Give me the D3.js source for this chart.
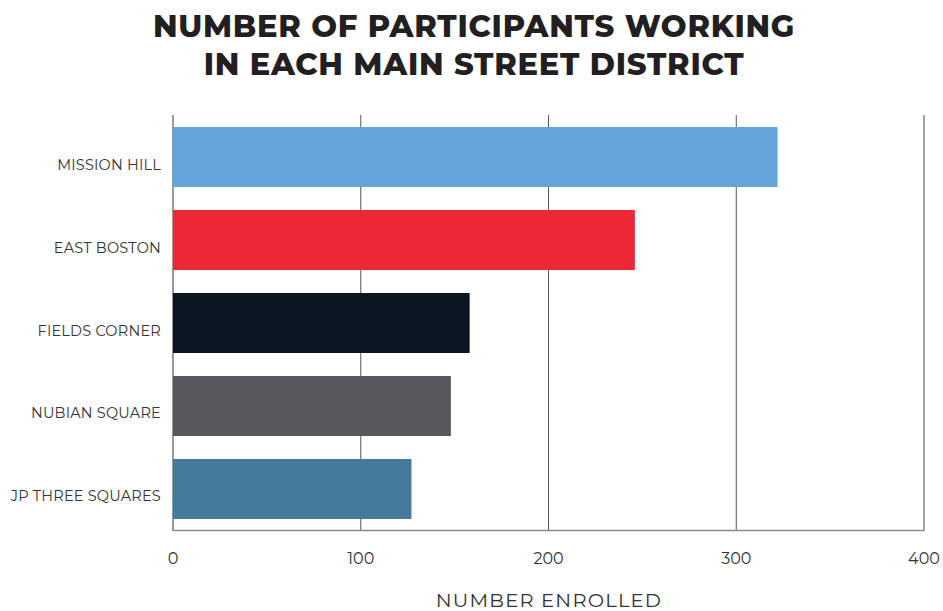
<!DOCTYPE html>
<html><head><meta charset="utf-8">
<script src="https://cdn.jsdelivr.net/npm/d3@7"></script>
<style>body{margin:0;background:#fff}svg{display:block}</style>
</head><body>
<svg id="c" width="943" height="611"></svg>
<script>
const categories = ["MISSION HILL","EAST BOSTON","FIELDS CORNER","NUBIAN SQUARE","JP THREE SQUARES"];
const values = [322, 246, 158, 148, 127];
const colors = ["#65A4D8","#EE2737","#0A1721","#58585C","#447A9C"];
const xTicks = [0,100,200,300,400];
const titleLines = ["NUMBER OF PARTICIPANTS WORKING","IN EACH MAIN STREET DISTRICT"];
const xTitle = "NUMBER ENROLLED";

const svg = d3.select("#c");
const F = "Montserrat, 'Open Sans', Lato, sans-serif";
const x = d3.scaleLinear().domain([0,400]).range([173,924]);
const y = d3.scaleBand().domain(categories).range([115,531]).paddingInner(0.277).paddingOuter(0.145);

// gridlines
svg.append("g").selectAll("line").data(xTicks).join("line")
  .attr("x1",d=>x(d)).attr("x2",d=>x(d)).attr("y1",115).attr("y2",531)
  .attr("stroke",d=>d===400?"#8a8a8a":(d===0?"#808080":"#555"))
  .attr("stroke-width",d=>d===400||d===0?1.6:1);
// bottom axis line
svg.append("line").attr("x1",x(0)).attr("x2",x(400)).attr("y1",530.5).attr("y2",530.5)
  .attr("stroke","#8a8a8a").attr("stroke-width",1.4);

// bars
svg.append("g").selectAll("rect").data(categories).join("rect")
  .attr("x",x(0)).attr("y",d=>y(d)).attr("height",y.bandwidth())
  .attr("width",(d,i)=>x(values[i])-x(0)).attr("fill",(d,i)=>colors[i]);

// category labels
svg.append("g").selectAll("text").data(categories).join("text")
  .attr("x",161).attr("y",d=>y(d)+y.bandwidth()/2+12.5)
  .attr("text-anchor","end").attr("font-family",F).attr("font-size",14.5).attr("letter-spacing",0.2).attr("fill","#333")
  .text(d=>d);

// tick labels
svg.append("g").selectAll("text").data(xTicks).join("text")
  .attr("x",d=>x(d)).attr("y",564).attr("text-anchor","middle")
  .attr("font-family",F).attr("font-size",16).attr("fill","#333").text(d=>d);

// axis title
svg.append("text").attr("x",549).attr("y",607).attr("text-anchor","middle")
  .attr("font-family",F).attr("font-size",19.5).attr("letter-spacing",1.2).attr("fill","#333").text(xTitle);

// title
svg.append("g").selectAll("text").data(titleLines).join("text")
  .attr("x",474).attr("y",(d,i)=>37+i*38).attr("text-anchor","middle")
  .attr("font-family",F).attr("font-weight",800).attr("font-size",30.5).attr("letter-spacing",0.75)
  .attr("fill","#231F20").text(d=>d);
</script>
</body></html>
